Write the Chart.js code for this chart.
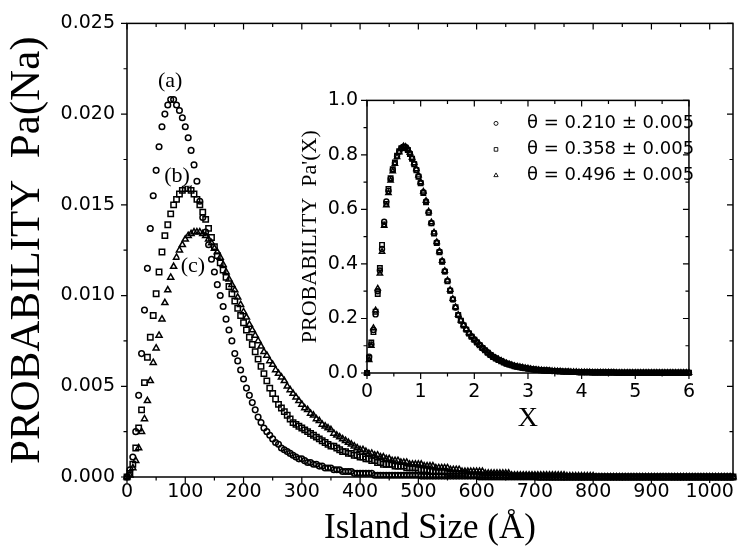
<!DOCTYPE html>
<html>
<head>
<meta charset="utf-8">
<script src="https://cdn.jsdelivr.net/npm/chart.js@4.4.1/dist/chart.umd.min.js"></script>
<style>
  html, body { margin: 0; padding: 0; background: #fff; }
  #wrap { position: relative; width: 739px; height: 550px; }
  #main { position: absolute; left: 0; top: 0; }
  #inset { position: absolute; left: 290px; top: 80px; }
</style>
</head>
<body>
<div id="wrap">
  <canvas id="main" width="739" height="550" style="width:739px;height:550px"></canvas>
  <canvas id="inset" width="413" height="360" style="width:413px;height:360px"></canvas>
</div>
<script>
// island size grid (Å), shared by the three main curves
const sizes = [
  0, 5, 10, 15, 20, 25, 30, 35, 40, 45, 50, 55, 60, 65, 70, 75, 80, 85, 90, 95,
  100, 105, 110, 115, 120, 125, 130, 135, 140, 145, 150, 155, 160, 165, 170, 175, 180, 185, 190, 195,
  200, 205, 210, 215, 220, 225, 230, 235, 240, 245, 250, 255, 260, 265, 270, 275, 280, 285, 290, 295,
  300, 305, 310, 315, 320, 325, 330, 335, 340, 345, 350, 355, 360, 365, 370, 375, 380, 385, 390, 395,
  400, 405, 410, 415, 420, 425, 430, 435, 440, 445, 450, 455, 460, 465, 470, 475, 480, 485, 490, 495,
  500, 505, 510, 515, 520, 525, 530, 535, 540, 545, 550, 555, 560, 565, 570, 575, 580, 585, 590, 595,
  600, 605, 610, 615, 620, 625, 630, 635, 640, 645, 650, 655, 660, 665, 670, 675, 680, 685, 690, 695,
  700, 705, 710, 715, 720, 725, 730, 735, 740, 745, 750, 755, 760, 765, 770, 775, 780, 785, 790, 795,
  800, 805, 810, 815, 820, 825, 830, 835, 840, 845, 850, 855, 860, 865, 870, 875, 880, 885, 890, 895,
  900, 905, 910, 915, 920, 925, 930, 935, 940, 945, 950, 955, 960, 965, 970, 975, 980, 985, 990, 995,
  1000, 1005, 1010, 1015, 1020, 1025, 1030, 1035, 1040
];

// (a) circles
const probA = [
  0, 0.0004, 0.0011, 0.0025, 0.0045, 0.0068, 0.0092, 0.0115, 0.0137, 0.0155, 0.0169, 0.0182, 0.0193, 0.0200, 0.0205, 0.0208, 0.0208, 0.0205, 0.0202, 0.0198,
  0.0193, 0.0187, 0.0180, 0.0172, 0.0163, 0.0152, 0.0143, 0.0135, 0.0128, 0.0120, 0.0113, 0.0106, 0.0100, 0.0094, 0.0087, 0.0081, 0.0075, 0.0068, 0.0064, 0.0059,
  0.0054, 0.0049, 0.0045, 0.0041, 0.0037, 0.0033, 0.0030, 0.0027, 0.0025, 0.0023, 0.0021, 0.0019, 0.0018, 0.0016, 0.0015, 0.0014, 0.0013, 0.0012, 0.0011, 0.0010,
  0.0010, 0.0009, 0.0008, 0.0008, 0.0007, 0.0007, 0.0006, 0.0006, 0.0005, 0.0005, 0.0005, 0.0004, 0.0004, 0.0004, 0.0003, 0.0003, 0.0003, 0.0003, 0.0002, 0.0002,
  0.0002, 0.0002, 0.0002, 0.0002, 0.0002, 0.0001, 0.0001, 0.0001, 0.0001, 0.0001, 0.0001, 0.0001, 0.0001, 0.0001, 0.0001, 0.0001, 0.0001, 0.0001, 0.0001, 0.0001,
  0.0001, 0.00005, 0.00005, 0.00005, 0.00005, 0.00005, 0.00005, 0.00005, 0.00005, 0.00005, 0.00005, 0.00005, 0.00005, 0.00005, 0.00005, 0.00005, 0.00005, 0.00005, 0.00005, 0.00005,
  0.00005, 0, 0, 0, 0, 0, 0, 0, 0, 0, 0, 0, 0, 0, 0, 0, 0, 0, 0, 0,
  0, 0, 0, 0, 0, 0, 0, 0, 0, 0, 0, 0, 0, 0, 0, 0, 0, 0, 0, 0,
  0, 0, 0, 0, 0, 0, 0, 0, 0, 0, 0, 0, 0, 0, 0, 0, 0, 0, 0, 0,
  0, 0, 0, 0, 0, 0, 0, 0, 0, 0, 0, 0, 0, 0, 0, 0, 0, 0, 0, 0,
  0, 0, 0, 0, 0, 0, 0, 0, 0
];

// (b) squares
const probB = [
  0, 0.0002, 0.0007, 0.0016, 0.0027, 0.0037, 0.0052, 0.0066, 0.0077, 0.0089, 0.0101, 0.0113, 0.0124, 0.0133, 0.0139, 0.0145, 0.0150, 0.0153, 0.0156, 0.0158,
  0.0159, 0.0159, 0.0158, 0.0156, 0.0153, 0.0150, 0.0146, 0.0142, 0.0137, 0.0132, 0.0127, 0.0122, 0.0118, 0.0114, 0.0110, 0.0105, 0.0101, 0.0097, 0.0093, 0.0089,
  0.0085, 0.0081, 0.0077, 0.0073, 0.0069, 0.0065, 0.0061, 0.0057, 0.0053, 0.0049, 0.0046, 0.0043, 0.0040, 0.0038, 0.0036, 0.0034, 0.0032, 0.0030, 0.0029, 0.0028,
  0.0027, 0.0026, 0.0025, 0.0024, 0.0023, 0.0022, 0.0021, 0.0020, 0.0019, 0.0018, 0.0017, 0.0017, 0.0016, 0.0015, 0.0014, 0.0014, 0.0013, 0.0013, 0.0012, 0.0012,
  0.0011, 0.0011, 0.0010, 0.0010, 0.0009, 0.0009, 0.0008, 0.0008, 0.0007, 0.0007, 0.0007, 0.0007, 0.0006, 0.0006, 0.0006, 0.0006, 0.0005, 0.0005, 0.0005, 0.0005,
  0.0004, 0.0004, 0.0004, 0.0004, 0.0003, 0.0003, 0.0003, 0.0003, 0.0003, 0.0003, 0.0002, 0.0002, 0.0002, 0.0002, 0.0002, 0.0002, 0.0002, 0.0001, 0.0001, 0.0001,
  0.0001, 0.0001, 0.0001, 0.0001, 0.0001, 0.0001, 0.0001, 0.0001, 0.0001, 0.0001, 0.0001, 0.00005, 0.00005, 0.00005, 0.00005, 0.00005, 0.00005, 0.00005, 0.00005, 0.00005,
  0.00005, 0, 0, 0, 0, 0, 0, 0, 0, 0, 0, 0, 0, 0, 0, 0, 0, 0, 0, 0,
  0, 0, 0, 0, 0, 0, 0, 0, 0, 0, 0, 0, 0, 0, 0, 0, 0, 0, 0, 0,
  0, 0, 0, 0, 0, 0, 0, 0, 0, 0, 0, 0, 0, 0, 0, 0, 0, 0, 0, 0,
  0, 0, 0, 0, 0, 0, 0, 0, 0
];

// (c) triangles
const probC = [
  0, 0.0001, 0.0005, 0.0009, 0.0016, 0.0025, 0.0032, 0.0042, 0.0053, 0.0063, 0.0071, 0.0078, 0.0087, 0.0096, 0.0103, 0.0110, 0.0116, 0.0121, 0.0125, 0.0128,
  0.0131, 0.0133, 0.0134, 0.0135, 0.0135, 0.0135, 0.0134, 0.0133, 0.0131, 0.0129, 0.0126, 0.0124, 0.0121, 0.0117, 0.0113, 0.0109, 0.0106, 0.0103, 0.0099, 0.0095,
  0.0091, 0.0088, 0.0084, 0.0081, 0.0078, 0.0075, 0.0072, 0.0069, 0.0067, 0.0064, 0.0062, 0.0059, 0.0057, 0.0055, 0.0053, 0.0050, 0.0048, 0.0046, 0.0044, 0.0042,
  0.0040, 0.0038, 0.0037, 0.0035, 0.0034, 0.0032, 0.0031, 0.0029, 0.0028, 0.0027, 0.0026, 0.0024, 0.0023, 0.0022, 0.0021, 0.0020, 0.0019, 0.0018, 0.0017, 0.0016,
  0.0015, 0.0015, 0.0014, 0.0013, 0.0013, 0.0012, 0.0012, 0.0011, 0.0011, 0.0010, 0.0010, 0.0009, 0.0009, 0.0009, 0.0008, 0.0008, 0.0008, 0.0007, 0.0007, 0.0007,
  0.0007, 0.0007, 0.0006, 0.0006, 0.0006, 0.0006, 0.0005, 0.0005, 0.0005, 0.0005, 0.0005, 0.0004, 0.0004, 0.0004, 0.0004, 0.0003, 0.0003, 0.0003, 0.0003, 0.0003,
  0.0003, 0.0003, 0.0003, 0.0002, 0.0002, 0.0002, 0.0002, 0.0002, 0.0002, 0.0002, 0.0002, 0.0002, 0.0001, 0.0001, 0.0001, 0.0001, 0.0001, 0.0001, 0.0001, 0.0001,
  0.0001, 0.0001, 0.0001, 0.0001, 0.0001, 0.0001, 0.0001, 0.0001, 0.0001, 0.0001, 0.0001, 0.00005, 0.00005, 0.00005, 0.00005, 0.00005, 0.00005, 0.00005, 0.00005, 0.00005,
  0.00005, 0, 0, 0, 0, 0, 0, 0, 0, 0, 0, 0, 0, 0, 0, 0, 0, 0, 0, 0,
  0, 0, 0, 0, 0, 0, 0, 0, 0, 0, 0, 0, 0, 0, 0, 0, 0, 0, 0, 0,
  0, 0, 0, 0, 0, 0, 0, 0, 0
];

const mainXTicks = [0, 100, 200, 300, 400, 500, 600, 700, 800, 900, 1000];
const mainYTicks = [0, 0.005, 0.010, 0.015, 0.020, 0.025];
const curveNames = ['(a)', '(b)', '(c)'];
// where the (a) (b) (c) names sit, in data units
const curveNameAt = [[74, 0.0218], [86, 0.0166], [113, 0.0116]];

// inset: scaled size X = s/<s>
const insetX = [
  0, 0.04, 0.08, 0.12, 0.16, 0.20, 0.24, 0.28, 0.32, 0.36, 0.40, 0.44, 0.48, 0.52, 0.56, 0.60, 0.64, 0.68, 0.72, 0.76, 0.80, 0.84, 0.88, 0.92, 0.96, 1.00,
  1.05, 1.10, 1.15, 1.20, 1.25, 1.30, 1.35, 1.40, 1.45, 1.50, 1.55, 1.60, 1.65, 1.70, 1.75, 1.80, 1.85, 1.90, 1.95, 2.00,
  2.05, 2.10, 2.15, 2.20, 2.25, 2.30, 2.35, 2.40, 2.45, 2.50, 2.55, 2.60, 2.65, 2.70, 2.75, 2.80, 2.85, 2.90, 2.95, 3.00,
  3.05, 3.10, 3.15, 3.20, 3.25, 3.30, 3.35, 3.40, 3.45, 3.50, 3.55, 3.60, 3.65, 3.70, 3.75, 3.80, 3.85, 3.90, 3.95, 4.00,
  4.05, 4.10, 4.15, 4.20, 4.25, 4.30, 4.35, 4.40, 4.45, 4.50, 4.55, 4.60, 4.65, 4.70, 4.75, 4.80, 4.85, 4.90, 4.95, 5.00,
  5.05, 5.10, 5.15, 5.20, 5.25, 5.30, 5.35, 5.40, 5.45, 5.50, 5.55, 5.60, 5.65, 5.70, 5.75, 5.80, 5.85, 5.90, 5.95, 6.00
];
// far tail, where the three scaled curves lie on top of each other
const insetTail = [
  0.015, 0.013, 0.012, 0.011, 0.010, 0.009, 0.009, 0.008, 0.007, 0.007, 0.006, 0.006, 0.005, 0.005, 0.005, 0.004, 0.004, 0.004, 0.003, 0.003,
  0.003, 0.003, 0.003, 0.002, 0.002, 0.002, 0.002, 0.002, 0.002, 0.002, 0.002, 0.002, 0.001, 0.001, 0.001, 0.001, 0.001, 0.001, 0.001, 0.001,
  0.001, 0.001, 0.001, 0.001, 0.001, 0.001, 0.001, 0.001, 0.001, 0.001, 0.001, 0.001, 0.001, 0.001, 0.001, 0.001, 0.001, 0.001, 0.001, 0.001
];
const insetA = [
  0, 0.060, 0.105, 0.158, 0.215, 0.300, 0.376, 0.455, 0.555, 0.629, 0.668, 0.712, 0.745, 0.770, 0.795, 0.812, 0.824, 0.830, 0.828, 0.820, 0.805, 0.787, 0.768, 0.746, 0.722, 0.698,
  0.663, 0.629, 0.590, 0.550, 0.514, 0.479, 0.445, 0.410, 0.373, 0.338, 0.303, 0.270, 0.240, 0.212, 0.192, 0.175, 0.160, 0.146, 0.134, 0.123,
  0.113, 0.103, 0.093, 0.084, 0.075, 0.067, 0.060, 0.054, 0.049, 0.044, 0.039, 0.035, 0.031, 0.028, 0.025, 0.023, 0.021, 0.019, 0.018, 0.016
].concat(insetTail);
const insetB = [
  0, 0.055, 0.112, 0.150, 0.225, 0.290, 0.385, 0.470, 0.545, 0.620, 0.675, 0.715, 0.748, 0.772, 0.797, 0.814, 0.825, 0.828, 0.826, 0.818, 0.803, 0.786, 0.766, 0.744, 0.720, 0.696,
  0.660, 0.626, 0.588, 0.549, 0.512, 0.477, 0.443, 0.408, 0.372, 0.336, 0.302, 0.270, 0.241, 0.213, 0.192, 0.174, 0.159, 0.145, 0.133, 0.122,
  0.112, 0.102, 0.092, 0.083, 0.074, 0.066, 0.059, 0.053, 0.048, 0.043, 0.038, 0.034, 0.031, 0.028, 0.025, 0.023, 0.021, 0.019, 0.017, 0.016
].concat(insetTail);
const insetC = [
  0, 0.048, 0.100, 0.165, 0.230, 0.310, 0.365, 0.445, 0.540, 0.615, 0.660, 0.706, 0.740, 0.768, 0.792, 0.810, 0.823, 0.832, 0.830, 0.822, 0.808, 0.790, 0.770, 0.748, 0.725, 0.700,
  0.666, 0.632, 0.593, 0.553, 0.516, 0.481, 0.447, 0.412, 0.375, 0.340, 0.305, 0.272, 0.242, 0.214, 0.193, 0.176, 0.161, 0.147, 0.135, 0.124,
  0.114, 0.104, 0.094, 0.085, 0.076, 0.068, 0.061, 0.055, 0.050, 0.045, 0.040, 0.036, 0.032, 0.029, 0.026, 0.024, 0.022, 0.020, 0.018, 0.017
].concat(insetTail);
const thetaLabels = ['θ = 0.210 ± 0.005', 'θ = 0.358 ± 0.005', 'θ = 0.496 ± 0.005'];
const insetXTicks = [0, 1, 2, 3, 4, 5, 6];
const insetYTicks = [0, 0.2, 0.4, 0.6, 0.8, 1.0];

const SANS = '"DejaVu Sans", Arial, sans-serif';
const SERIF = '"Liberation Serif", "Times New Roman", serif';
const markers = ['circle', 'rect', 'triangle'];

// box frame: outward ticks bottom/left, inward ticks top/right
const frameTicks = {
  id: 'frameTicks',
  beforeDatasetsDraw(chart, args, opts) {
    const { ctx, chartArea: a } = chart;
    const xs = chart.scales.x, ys = chart.scales.y;
    ctx.save();
    ctx.strokeStyle = '#000';
    ctx.lineWidth = 1.5;
    ctx.strokeRect(a.left, a.top, a.right - a.left, a.bottom - a.top);
    ctx.lineWidth = 1.2;
    ctx.beginPath();
    const nx = Math.floor((xs.max - xs.min) / opts.xMinor + 1e-6);
    for (let i = 0; i <= nx; i++) {
      const px = xs.getPixelForValue(xs.min + i * opts.xMinor);
      const len = i % 2 === 0 ? 6 : 3.5;
      ctx.moveTo(px, a.bottom); ctx.lineTo(px, a.bottom + len);
      ctx.moveTo(px, a.top); ctx.lineTo(px, a.top + len);
    }
    const ny = Math.floor((ys.max - ys.min) / opts.yMinor + 1e-6);
    for (let i = 0; i <= ny; i++) {
      const py = ys.getPixelForValue(ys.min + i * opts.yMinor);
      const len = i % 2 === 0 ? 6 : 3.5;
      ctx.moveTo(a.left, py); ctx.lineTo(a.left - len, py);
      ctx.moveTo(a.right, py); ctx.lineTo(a.right - len, py);
    }
    ctx.stroke();
    ctx.restore();
  }
};

const curveLabels = {
  id: 'curveLabels',
  afterDatasetsDraw(chart) {
    const { ctx } = chart;
    const xs = chart.scales.x, ys = chart.scales.y;
    ctx.save();
    ctx.font = '22px ' + SERIF;
    ctx.textAlign = 'center';
    ctx.textBaseline = 'middle';
    curveNames.forEach((name, i) => {
      const px = xs.getPixelForValue(curveNameAt[i][0]);
      const py = ys.getPixelForValue(curveNameAt[i][1]);
      const w = ctx.measureText(name).width;
      ctx.fillStyle = '#fff';
      ctx.fillRect(px - w / 2 - 1, py - 10, w + 2, 20);
      ctx.fillStyle = '#000';
      ctx.fillText(name, px, py);
    });
    ctx.restore();
  }
};

const insetLegend = {
  id: 'insetLegend',
  afterDatasetsDraw(chart) {
    const { ctx, chartArea: a } = chart;
    ctx.save();
    chart.data.datasets.forEach((ds, i) => {
      const y = a.top + 23 + i * 26;
      ctx.strokeStyle = '#000';
      ctx.fillStyle = 'rgba(0,0,0,0)';
      ctx.lineWidth = 0.9;
      Chart.helpers.drawPoint(ctx, { pointStyle: ds.pointStyle, radius: ds.pointRadius * 0.8, borderWidth: 0.9, rotation: 0 }, a.left + 129, y);
      ctx.fillStyle = '#000';
      ctx.font = '18px ' + SANS;
      ctx.textBaseline = 'middle';
      ctx.fillText(ds.label, a.left + 160, y);
    });
    ctx.restore();
  }
};

function series(xv, yv, i, label, radius, bw) {
  return {
    label: label,
    data: xv.map((v, k) => ({ x: v, y: yv[k] })),
    pointStyle: markers[i],
    pointRadius: radius,
    pointBorderWidth: bw,
    pointBorderColor: '#000',
    pointBackgroundColor: 'rgba(0,0,0,0)',
    showLine: false,
    clip: false
  };
}

function axis(min, max, tickVals, digits, afterFit, title, titleFont, titlePad, labelPad) {
  return {
    type: 'linear', min: min, max: max,
    afterFit: afterFit,
    afterBuildTicks: s => { s.ticks = tickVals.map(v => ({ value: v })); },
    grid: { display: false, drawTicks: false },
    border: { display: false },
    ticks: {
      color: '#000', padding: labelPad, autoSkip: false, maxRotation: 0,
      font: { family: SANS, size: 19 },
      callback: v => Number(v).toFixed(digits)
    },
    title: { display: true, text: title, color: '#000', font: { family: SERIF, size: titleFont }, padding: titlePad }
  };
}

new Chart(document.getElementById('main'), {
  type: 'scatter',
  data: {
    datasets: [
      series(sizes, probA, 0, '(a)', 2.8, 1.5),
      series(sizes, probB, 1, '(b)', 3.8, 1.5),
      series(sizes, probC, 2, '(c)', 3.5, 1.5)
    ]
  },
  options: {
    responsive: false,
    animation: false,
    events: [],
    layout: { padding: { top: 20, right: 6, left: 0, bottom: 0 } },
    plugins: {
      legend: { display: false },
      tooltip: { enabled: false },
      frameTicks: { xMinor: 50, yMinor: 0.0025 }
    },
    scales: {
      x: axis(0, 1040, mainXTicks, 0, s => { s.height = 73; }, 'Island Size (Å)', 35, { top: 0, bottom: 0 }, 4),
      y: axis(0, 0.025, mainYTicks, 3, s => { s.width = 127; }, 'PROBABILITY  Pa(Na)', 43, { top: 2, bottom: 0 }, 12)
    }
  },
  plugins: [frameTicks, curveLabels]
});

new Chart(document.getElementById('inset'), {
  type: 'scatter',
  data: {
    datasets: [
      series(insetX, insetA, 0, thetaLabels[0], 2.5, 1.4),
      series(insetX, insetB, 1, thetaLabels[1], 3.2, 1.4),
      series(insetX, insetC, 2, thetaLabels[2], 3.1, 1.4)
    ]
  },
  options: {
    responsive: false,
    animation: false,
    events: [],
    layout: { padding: { top: 12, right: 10, left: 0, bottom: 0 } },
    plugins: {
      legend: { display: false },
      tooltip: { enabled: false },
      frameTicks: { xMinor: 0.5, yMinor: 0.1 }
    },
    scales: {
      x: axis(0, 6, insetXTicks, 0, s => { s.height = 67; }, 'X', 28, { top: 0, bottom: 5 }, 8),
      y: axis(0, 1, insetYTicks, 1, s => { s.width = 77; }, "PROBABILITY  Pa'(X)", 22, { top: 7, bottom: 0 }, 9)
    }
  },
  plugins: [frameTicks, insetLegend]
});
</script>
</body>
</html>
